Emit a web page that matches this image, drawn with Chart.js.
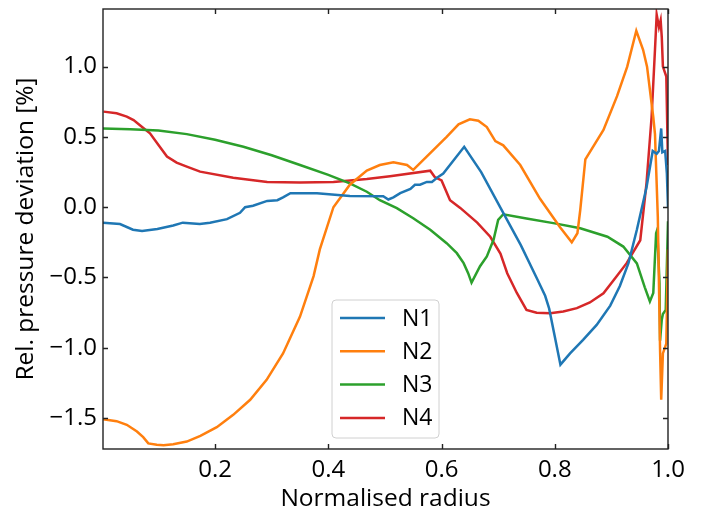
<!DOCTYPE html>
<html>
<head>
<meta charset="utf-8">
<script src="https://cdn.jsdelivr.net/npm/chart.js@4/dist/chart.umd.min.js"></script>
<style>
  html, body { margin: 0; padding: 0; background: #fff; }
  #wrap { width: 703px; height: 512px; }
</style>
</head>
<body>
<div id="wrap"><canvas id="myChart" width="703" height="512"></canvas></div>
<script>
// radial profiles of the relative pressure deviation
var n1X = [0.002, 0.032, 0.055, 0.071, 0.098, 0.126, 0.143, 0.173, 0.191, 0.221, 0.244, 0.253, 0.267, 0.292, 0.31, 0.32, 0.333, 0.38, 0.438, 0.497, 0.506, 0.515, 0.527, 0.545, 0.553, 0.562, 0.574, 0.583, 0.592, 0.603, 0.64, 0.67, 0.709, 0.74, 0.77, 0.783, 0.79, 0.80, 0.81, 0.827, 0.85, 0.874, 0.898, 0.915, 0.93, 0.945, 0.962, 0.973, 0.98, 0.984, 0.988, 0.99, 0.995, 0.998, 1.0];
var n1Y = [-0.11, -0.12, -0.16, -0.17, -0.155, -0.13, -0.11, -0.12, -0.11, -0.085, -0.04, 0.0, 0.01, 0.045, 0.05, 0.07, 0.10, 0.10, 0.08, 0.078, 0.055, 0.07, 0.10, 0.13, 0.16, 0.16, 0.18, 0.18, 0.21, 0.24, 0.43, 0.25, -0.04, -0.27, -0.52, -0.63, -0.72, -0.92, -1.12, -1.04, -0.944, -0.837, -0.70, -0.56, -0.40, -0.16, 0.14, 0.40, 0.38, 0.40, 0.56, 0.39, 0.40, 0.24, 0.0];

var n2X = [0.002, 0.026, 0.044, 0.062, 0.073, 0.082, 0.097, 0.109, 0.126, 0.15, 0.174, 0.203, 0.232, 0.262, 0.291, 0.32, 0.35, 0.374, 0.385, 0.409, 0.438, 0.468, 0.491, 0.515, 0.539, 0.55, 0.609, 0.63, 0.65, 0.665, 0.68, 0.695, 0.709, 0.739, 0.774, 0.809, 0.83, 0.84, 0.845, 0.854, 0.857, 0.886, 0.91, 0.928, 0.944, 0.956, 0.963, 0.974, 0.977, 0.982, 0.986, 0.988, 0.991, 0.997, 1.0];
var n2Y = [-1.508, -1.522, -1.548, -1.596, -1.636, -1.68, -1.69, -1.693, -1.686, -1.667, -1.627, -1.565, -1.477, -1.37, -1.228, -1.04, -0.778, -0.49, -0.30, 0.0, 0.16, 0.26, 0.30, 0.32, 0.30, 0.265, 0.5, 0.59, 0.625, 0.615, 0.57, 0.47, 0.44, 0.30, 0.06, -0.14, -0.25, -0.185, -0.02, 0.34, 0.36, 0.55, 0.79, 1.0, 1.255, 1.12, 1.0, 0.64, 0.52, -0.07, -1.02, -1.37, -1.04, -0.97, -0.3];

var n3X = [0.002, 0.05, 0.1, 0.15, 0.2, 0.25, 0.3, 0.35, 0.4, 0.438, 0.468, 0.491, 0.521, 0.55, 0.58, 0.609, 0.627, 0.639, 0.647, 0.653, 0.668, 0.68, 0.692, 0.7, 0.709, 0.75, 0.8, 0.845, 0.893, 0.921, 0.945, 0.959, 0.968, 0.974, 0.979, 0.981, 0.985, 0.986, 0.989, 0.991, 0.996, 1.0];
var n3Y = [0.56, 0.555, 0.545, 0.52, 0.48, 0.43, 0.37, 0.30, 0.23, 0.17, 0.11, 0.05, -0.007, -0.078, -0.161, -0.256, -0.327, -0.398, -0.469, -0.536, -0.42, -0.35, -0.23, -0.09, -0.05, -0.08, -0.115, -0.15, -0.21, -0.28, -0.4, -0.57, -0.67, -0.61, -0.185, -0.16, -0.54, -0.95, -0.8, -0.76, -0.73, -0.1];

var n4X = [0.003, 0.026, 0.044, 0.056, 0.0705, 0.085, 0.1, 0.115, 0.132, 0.15, 0.1735, 0.232, 0.292, 0.35, 0.409, 0.468, 0.509, 0.58, 0.588, 0.6, 0.615, 0.633, 0.663, 0.686, 0.704, 0.716, 0.733, 0.750, 0.768, 0.792, 0.815, 0.839, 0.862, 0.886, 0.909, 0.927, 0.951, 0.962, 0.971, 0.977, 0.98, 0.984, 0.987, 0.989, 0.991, 0.997, 1.0];
var n4Y = [0.68, 0.668, 0.645, 0.62, 0.573, 0.526, 0.443, 0.36, 0.317, 0.289, 0.253, 0.21, 0.18, 0.175, 0.18, 0.2, 0.22, 0.26, 0.215, 0.19, 0.05, -0.005, -0.11, -0.21, -0.33, -0.47, -0.61, -0.73, -0.75, -0.754, -0.742, -0.718, -0.678, -0.612, -0.493, -0.398, -0.235, 0.17, 0.64, 1.12, 1.37, 1.28, 1.33, 1.21, 1.0, 0.93, 0.3];

var seriesNames = ['N1', 'N2', 'N3', 'N4'];
var seriesColors = ['#1f77b4', '#ff7f0e', '#2ca02c', '#d62728'];

var xTicks = [0.2, 0.4, 0.6, 0.8, 1.0];
var yTicks = [-1.5, -1.0, -0.5, 0.0, 0.5, 1.0];

var FONT = "'Open Sans', 'DejaVu Sans', sans-serif";

function toPoints(xs, ys) {
    var pts = [];
    for (var i = 0; i < xs.length; i++) pts.push({x: xs[i], y: ys[i]});
    return pts;
}

function fmt(v) {
    return v.toFixed(1).replace('-', '\u2212');
}

var allX = [n1X, n2X, n3X, n4X];
var allY = [n1Y, n2Y, n3Y, n4Y];
var datasets = [];
for (var s = 0; s < seriesNames.length; s++) {
    datasets.push({
        label: seriesNames[s],
        data: toPoints(allX[s], allY[s]),
        borderColor: seriesColors[s],
        backgroundColor: seriesColors[s],
        borderWidth: 2.5,
        pointRadius: 0,
        tension: 0,
        fill: false
    });
}

// box around the plot plus inward ticks on every side
var framePlugin = {
    id: 'frame',
    afterDatasetsDraw: function(chart) {
        var ctx = chart.ctx;
        var a = chart.chartArea;
        var xs = chart.scales.x, ys = chart.scales.y;
        ctx.save();
        ctx.strokeStyle = '#222';
        ctx.lineWidth = 1.4;
        ctx.strokeRect(a.left, a.top, a.right - a.left, a.bottom - a.top);
        ctx.beginPath();
        xs.ticks.forEach(function(t) {
            var px = Math.round(xs.getPixelForValue(t.value)) + 0.5;
            ctx.moveTo(px, a.bottom); ctx.lineTo(px, a.bottom - 5);
            ctx.moveTo(px, a.top); ctx.lineTo(px, a.top + 5);
        });
        ys.ticks.forEach(function(t) {
            var py = Math.round(ys.getPixelForValue(t.value)) + 0.5;
            ctx.moveTo(a.left, py); ctx.lineTo(a.left + 5, py);
            ctx.moveTo(a.right, py); ctx.lineTo(a.right - 5, py);
        });
        ctx.stroke();
        ctx.restore();
    }
};

// legend box drawn inside the plot area
var legendPlugin = {
    id: 'innerLegend',
    afterDraw: function(chart) {
        var ctx = chart.ctx;
        var bx = 332, by = 300, bw = 107, bh = 138, r = 4;
        ctx.save();
        ctx.beginPath();
        ctx.moveTo(bx + r, by);
        ctx.arcTo(bx + bw, by, bx + bw, by + bh, r);
        ctx.arcTo(bx + bw, by + bh, bx, by + bh, r);
        ctx.arcTo(bx, by + bh, bx, by, r);
        ctx.arcTo(bx, by, bx + bw, by, r);
        ctx.closePath();
        ctx.fillStyle = 'rgba(255,255,255,0.8)';
        ctx.fill();
        ctx.strokeStyle = '#d0d0d0';
        ctx.lineWidth = 1;
        ctx.stroke();
        ctx.font = '23px ' + FONT;
        ctx.textBaseline = 'middle';
        ctx.textAlign = 'left';
        chart.data.datasets.forEach(function(ds, i) {
            var cy = 318 + i * 33.3;
            ctx.strokeStyle = ds.borderColor;
            ctx.lineWidth = 2.5;
            ctx.beginPath();
            ctx.moveTo(340, cy);
            ctx.lineTo(385, cy);
            ctx.stroke();
            ctx.fillStyle = '#000';
            ctx.fillText(ds.label, 402, cy + 1);
        });
        ctx.restore();
    }
};

var canvas = document.getElementById('myChart');
var ctx = canvas.getContext('2d');
var myChart = new Chart(ctx, {
    type: 'line',
    data: { datasets: datasets },
    options: {
        responsive: false,
        animation: false,
        devicePixelRatio: 1,
        layout: { padding: { top: 9, right: 35, left: 0, bottom: 0 } },
        plugins: {
            legend: { display: false },
            tooltip: { enabled: false }
        },
        scales: {
            x: {
                type: 'linear',
                min: 0.002,
                max: 1.0,
                afterBuildTicks: function(scale) {
                    scale.ticks = xTicks.map(function(v) { return {value: v}; });
                },
                afterFit: function(scale) {
                    scale.height = 63;
                    scale.paddingLeft = 0;
                    scale.paddingRight = 0;
                },
                grid: { display: false, drawTicks: false },
                border: { display: false },
                ticks: {
                    padding: 7,
                    color: '#000',
                    font: { family: FONT, size: 24 },
                    maxRotation: 0,
                    callback: function(v) { return fmt(v); }
                },
                title: {
                    display: true,
                    text: 'Normalised radius',
                    color: '#000',
                    font: { family: FONT, size: 24.5, lineHeight: 1 },
                    padding: { top: 0, bottom: 1 }
                }
            },
            y: {
                type: 'linear',
                min: -1.72,
                max: 1.41,
                afterBuildTicks: function(scale) {
                    scale.ticks = yTicks.map(function(v) { return {value: v}; });
                },
                afterFit: function(scale) {
                    scale.width = 103;
                    scale.paddingTop = 0;
                    scale.paddingBottom = 0;
                },
                grid: { display: false, drawTicks: false },
                border: { display: false },
                ticks: {
                    padding: 6,
                    color: '#000',
                    font: { family: FONT, size: 24 },
                    callback: function(v) { return fmt(v); }
                },
                title: {
                    display: true,
                    text: 'Rel. pressure deviation [%]',
                    color: '#000',
                    font: { family: FONT, size: 24.5, lineHeight: 1 },
                    padding: { top: 14, bottom: 0 }
                }
            }
        }
    },
    plugins: [framePlugin, legendPlugin]
});
</script>
</body>
</html>
